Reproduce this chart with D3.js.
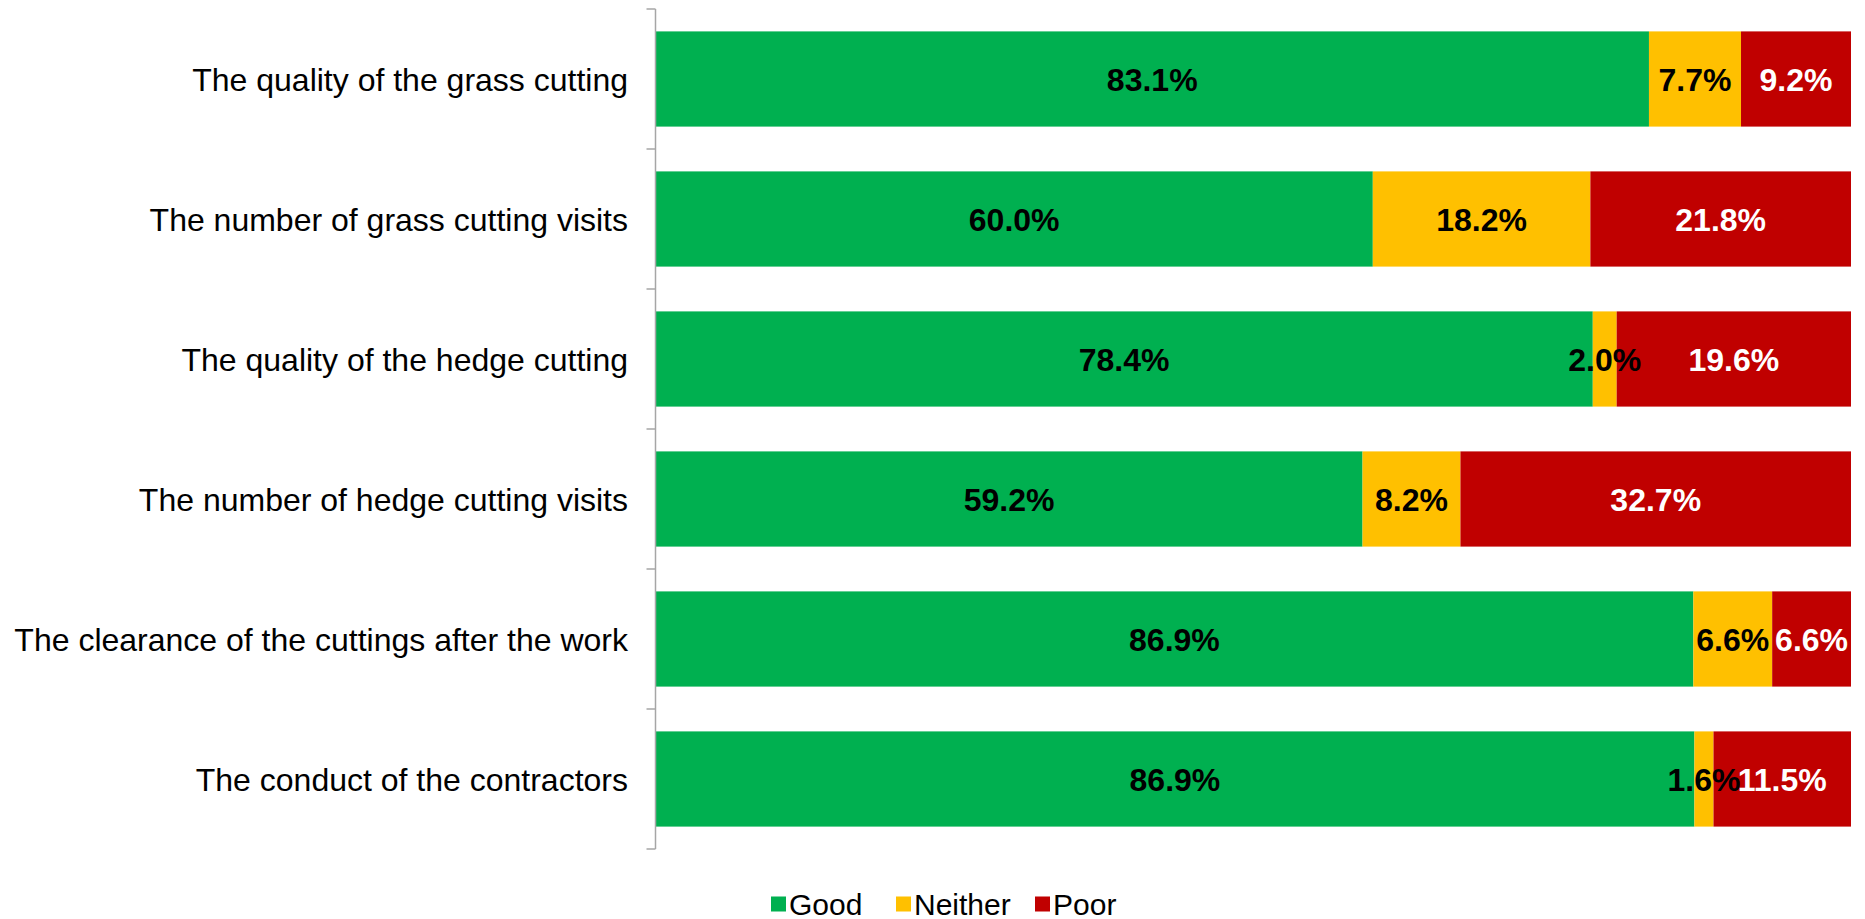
<!DOCTYPE html>
<html>
<head>
<meta charset="utf-8">
<script src="https://cdn.jsdelivr.net/npm/d3@7"></script>
<style>
  body{margin:0;background:#fff;}
  text{font-family:"Liberation Sans",Arial,sans-serif;}
</style>
</head>
<body>
<div id="container"></div>
<script>
let w = 1865;
let h = 919;

let categories = [
  "The quality of the grass cutting",
  "The number of grass cutting visits",
  "The quality of the hedge cutting",
  "The number of hedge cutting visits",
  "The clearance of the cuttings after the work",
  "The conduct of the contractors"
];
let seriesNames = ["Good","Neither","Poor"];
let good    = [83.1, 60.0, 78.4, 59.2, 86.9, 86.9];
let neither = [7.7, 18.2, 2.0, 8.2, 6.6, 1.6];
let poor    = [9.2, 21.8, 19.6, 32.7, 6.6, 11.5];

let colors = {Good:"#00B050", Neither:"#FFC000", Poor:"#C00000"};
let labelColors = {Good:"#000", Neither:"#000", Poor:"#fff"};

// rows for the stack, normalised to 100% like the spreadsheet does
let rows = categories.map(function(c,i){
  let total = good[i]+neither[i]+poor[i];
  return {
    cat:c,
    Good:good[i]/total*100, Neither:neither[i]/total*100, Poor:poor[i]/total*100,
    raw:{Good:good[i], Neither:neither[i], Poor:poor[i]}
  };
});

let viz = d3.select("#container")
  .append("svg")
    .attr("width",w)
    .attr("height",h)
;

let plotLeft = 655.5, plotRight = 1851, plotTop = 9, plotBottom = 849;

let x = d3.scaleLinear().domain([0,100]).range([plotLeft,plotRight]);
let y = d3.scaleBand().domain(categories).range([plotTop,plotBottom]).paddingInner(0.32).paddingOuter(0.16);

let stack = d3.stack().keys(seriesNames)(rows);

let layers = viz.selectAll(".layer").data(stack).enter()
  .append("g")
    .attr("class","layer")
    .attr("fill",function(d){ return colors[d.key]; })
;

layers.selectAll("rect").data(function(d){ return d; }).enter()
  .append("rect")
    .attr("x",function(d){ return x(d[0]); })
    .attr("y",function(d){ return y(d.data.cat); })
    .attr("width",function(d){ return x(d[1])-x(d[0]); })
    .attr("height",y.bandwidth())
;

// value labels
stack.forEach(function(layer){
  viz.append("g").selectAll("text").data(layer).enter()
    .append("text")
      .attr("x",function(d){ return (x(d[0])+x(d[1]))/2; })
      .attr("y",function(d){ return y(d.data.cat)+y.bandwidth()/2; })
      .attr("dy","0.36em")
      .attr("text-anchor","middle")
      .attr("fill",labelColors[layer.key])
      .style("font-size","32px")
      .style("font-weight","bold")
      .text(function(d){ return d.data.raw[layer.key].toFixed(1)+"%"; })
  ;
});

// category axis with ticks between the bands
let axisG = viz.append("g");
axisG.append("line")
  .attr("x1",plotLeft).attr("x2",plotLeft)
  .attr("y1",plotTop).attr("y2",plotBottom)
  .attr("stroke","#a6a6a6").attr("stroke-width",1.5)
;
let tickYs = d3.range(categories.length+1).map(function(i){ return plotTop+(plotBottom-plotTop)/categories.length*i; });
axisG.selectAll(".tick").data(tickYs).enter()
  .append("line")
    .attr("x1",plotLeft-9).attr("x2",plotLeft)
    .attr("y1",function(d){ return d; }).attr("y2",function(d){ return d; })
    .attr("stroke","#a6a6a6").attr("stroke-width",1.5)
;
axisG.selectAll(".lab").data(categories).enter()
  .append("text")
    .attr("x",628)
    .attr("y",function(d){ return y(d)+y.bandwidth()/2; })
    .attr("dy","0.36em")
    .attr("text-anchor","end")
    .attr("fill","#000")
    .style("font-size","32px")
    .text(function(d){ return d; })
;

// legend
let legendX = [771, 896, 1035];
let legend = viz.selectAll(".legend").data(seriesNames).enter()
  .append("g")
    .attr("class","legend")
    .attr("transform",function(d,i){ return "translate("+legendX[i]+",904)"; })
;
legend.append("rect")
  .attr("x",0).attr("y",-7.5).attr("width",15).attr("height",15)
  .attr("fill",function(d){ return colors[d]; })
;
legend.append("text")
  .attr("x",18).attr("y",0).attr("dy","0.36em")
  .style("font-size","30px")
  .text(function(d){ return d; })
;
</script>
</body>
</html>
